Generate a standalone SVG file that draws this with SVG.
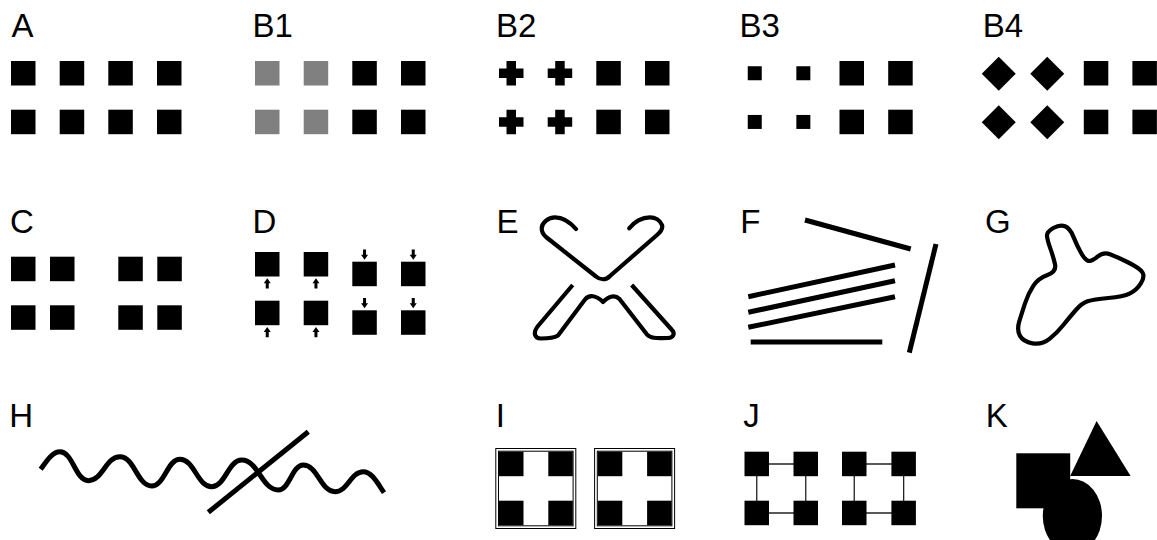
<svg xmlns="http://www.w3.org/2000/svg" xmlns:xlink="http://www.w3.org/1999/xlink" width="1157" height="540" viewBox="0 0 1157 540">
<style>
.lbl{font-family:"Liberation Sans",Arial,sans-serif;font-size:33px;fill:#000}
.k{fill:#000}
.gr{fill:#808080}
.ln{fill:none;stroke:#000;stroke-width:5}
.th{fill:none;stroke:#000;stroke-width:4.2;stroke-linejoin:round;stroke-linecap:round}
.fr{fill:none;stroke:#000;stroke-width:1}
.cn{stroke:#222;stroke-width:1.3}
</style>
<defs>
<rect id="sq" width="24.5" height="24.5"/>
<rect id="ssq" width="14" height="14" x="5.25" y="5.25"/>
<path id="plus" d="M7.5,0h9.5v7.5h7.5v9.5h-7.5v7.5h-9.5v-7.5h-7.5v-9.5h7.5z"/>
<path id="dia" d="M12.25,-4.75L29.25,12.25L12.25,29.25L-4.75,12.25Z"/>
<path id="up" d="M0,0L3.5,5L1.5,5L1.5,10.3L-1.5,10.3L-1.5,5L-3.5,5Z"/>
<path id="dn" d="M0,0L3.5,-5L1.5,-5L1.5,-10.3L-1.5,-10.3L-1.5,-5L-3.5,-5Z"/>
</defs>
<rect width="1157" height="540" fill="#fff"/>

<g id="A" class="k">
<text class="lbl" x="11.5" y="37.3">A</text>
<use xlink:href="#sq" x="11" y="61"/><use xlink:href="#sq" x="59.7" y="61"/><use xlink:href="#sq" x="108.3" y="61"/><use xlink:href="#sq" x="157" y="61"/>
<use xlink:href="#sq" x="11" y="109.7"/><use xlink:href="#sq" x="59.7" y="109.7"/><use xlink:href="#sq" x="108.3" y="109.7"/><use xlink:href="#sq" x="157" y="109.7"/>
</g>

<g id="B1" class="k">
<text class="lbl" x="252.6" y="37.3">B1</text>
<use class="gr" xlink:href="#sq" x="255" y="61"/><use class="gr" xlink:href="#sq" x="303.7" y="61"/><use xlink:href="#sq" x="352.3" y="61"/><use xlink:href="#sq" x="401" y="61"/>
<use class="gr" xlink:href="#sq" x="255" y="109.7"/><use class="gr" xlink:href="#sq" x="303.7" y="109.7"/><use xlink:href="#sq" x="352.3" y="109.7"/><use xlink:href="#sq" x="401" y="109.7"/>
</g>

<g id="B2" class="k">
<text class="lbl" x="496" y="37.3">B2</text>
<use xlink:href="#plus" x="499" y="61"/><use xlink:href="#plus" x="547.7" y="61"/><use xlink:href="#sq" x="596.3" y="61"/><use xlink:href="#sq" x="645" y="61"/>
<use xlink:href="#plus" x="499" y="109.7"/><use xlink:href="#plus" x="547.7" y="109.7"/><use xlink:href="#sq" x="596.3" y="109.7"/><use xlink:href="#sq" x="645" y="109.7"/>
</g>

<g id="B3" class="k">
<text class="lbl" x="739.5" y="37.3">B3</text>
<use xlink:href="#ssq" x="742.5" y="61"/><use xlink:href="#ssq" x="791.1" y="61"/><use xlink:href="#sq" x="839.5" y="61"/><use xlink:href="#sq" x="888.2" y="61"/>
<use xlink:href="#ssq" x="742.5" y="109.7"/><use xlink:href="#ssq" x="791.1" y="109.7"/><use xlink:href="#sq" x="839.5" y="109.7"/><use xlink:href="#sq" x="888.2" y="109.7"/>
</g>

<g id="B4" class="k">
<text class="lbl" x="982.8" y="37.3">B4</text>
<use xlink:href="#dia" x="986.5" y="61.5"/><use xlink:href="#dia" x="1035" y="61.5"/><use xlink:href="#sq" x="1083.8" y="61"/><use xlink:href="#sq" x="1132.4" y="61"/>
<use xlink:href="#dia" x="986.5" y="110"/><use xlink:href="#dia" x="1035" y="110"/><use xlink:href="#sq" x="1083.8" y="109.7"/><use xlink:href="#sq" x="1132.4" y="109.7"/>
</g>

<g id="C" class="k">
<text class="lbl" x="10" y="233">C</text>
<use xlink:href="#sq" x="11" y="256.7"/><use xlink:href="#sq" x="50" y="256.7"/><use xlink:href="#sq" x="118.3" y="256.7"/><use xlink:href="#sq" x="157.3" y="256.7"/>
<use xlink:href="#sq" x="11" y="305.3"/><use xlink:href="#sq" x="50" y="305.3"/><use xlink:href="#sq" x="118.3" y="305.3"/><use xlink:href="#sq" x="157.3" y="305.3"/>
</g>

<g id="D" class="k">
<text class="lbl" x="252.6" y="233">D</text>
<use xlink:href="#sq" x="255" y="252"/><use xlink:href="#sq" x="303.7" y="252"/><use xlink:href="#sq" x="352.3" y="261.7"/><use xlink:href="#sq" x="401" y="261.7"/>
<use xlink:href="#sq" x="255" y="300.7"/><use xlink:href="#sq" x="303.7" y="300.7"/><use xlink:href="#sq" x="352.3" y="310.3"/><use xlink:href="#sq" x="401" y="310.3"/>
<use xlink:href="#up" x="267.25" y="278.2"/><use xlink:href="#up" x="315.95" y="278.2"/>
<use xlink:href="#up" x="267.25" y="326.9"/><use xlink:href="#up" x="315.95" y="326.9"/>
<use xlink:href="#dn" x="364.55" y="259.7"/><use xlink:href="#dn" x="413.25" y="259.7"/>
<use xlink:href="#dn" x="364.55" y="308.3"/><use xlink:href="#dn" x="413.25" y="308.3"/>
</g>

<g id="E">
<text class="lbl" x="496.5" y="233">E</text>
<path class="th" d="M576,229 C570,222 562,217.3 555,217.3 C548,217.3 541.7,223 541.7,228.3 C541.7,232 543,234.5 546,237 L596,276.5 C600,280 606,280.5 610,276 L657,235 C661,231.5 663,228 662,225 C660,220 655,217.3 650,217.3 C642,217.3 634,222 629.3,228.3"/>
<path class="th" d="M572.7,285 L538,326 C533,332 534,338.5 541,338.5 C548,338.5 554,338 558,335.5 L585,299.5 C589,294.5 596,295 603,302 C609,296 615,294.5 619.5,299 L647,334.5 C650,338 655,338.5 668,338 C674,337.5 675,333 672,330 L631.7,285" style="stroke-linecap:butt"/>
</g>

<g id="F">
<text class="lbl" x="740.3" y="233">F</text>
<line class="ln" x1="805" y1="220" x2="910.7" y2="249"/>
<line class="ln" x1="936" y1="244" x2="909.3" y2="352.7"/>
<line class="ln" x1="748.3" y1="296.7" x2="895" y2="265"/>
<line class="ln" x1="748.3" y1="312.3" x2="895" y2="280.7"/>
<line class="ln" x1="748.3" y1="327.3" x2="895" y2="296.7"/>
<line class="ln" x1="750.7" y1="342" x2="882.3" y2="342"/>
</g>

<g id="G">
<text class="lbl" x="985" y="233">G</text>
<path class="th" d="M1047,235.85 Q1046.7,231.7 1053.35,228 Q1060,224.3 1065,226.3 Q1070,228.3 1073.35,236.65 Q1076.7,245 1080.85,252.5 Q1085,260 1088.35,260.85 Q1091.7,261.7 1097.5,256.7 Q1103.3,251.7 1110,254.2 Q1116.7,256.7 1128.35,262.5 Q1140,268.3 1142.5,272.5 Q1145,276.7 1140.85,283.35 Q1136.7,290 1130,293.35 Q1123.3,296.7 1108.3,298 Q1093.3,299.3 1087.5,301.3 Q1081.7,303.3 1075.85,310 Q1070,316.7 1063.35,325 Q1056.7,333.3 1049.2,339.15 Q1041.7,345 1032.5,343.35 Q1023.3,341.7 1020,335.85 Q1016.7,330 1019.2,321.65 Q1021.7,313.3 1025,303.3 Q1028.3,293.3 1033.3,285.8 Q1038.3,278.3 1047.5,275 Q1056.7,271.7 1055,264.2 Q1053.3,256.7 1050.3,248.35 Q1047.3,240 1047,235.85 Z"/>
</g>

<g id="H">
<text class="lbl" x="9.3" y="427.3">H</text>
<path class="ln" d="M40.7,469.3 C46,462 52,451.7 60,451.7 C72.7,451.7 75.6,480.7 88.3,480.7 C102.6,480.7 105.7,456.7 120,456.7 C134.3,456.7 137.4,486 151.7,486 C164.4,486 167.3,459.3 180,459.3 C194.3,459.3 197.4,486.7 211.7,486.7 C225.2,486.7 228.2,460 241.7,460 C258.2,460 261.8,490 278.3,490 C289.6,490 292,465 303.3,465 C317.6,465 320.7,491.7 335,491.7 C347.7,491.7 350.6,471.7 363.3,471.7 C372,471.7 378,484 384,492.7"/>
<line class="ln" x1="208.3" y1="512.3" x2="308.3" y2="431.7"/>
</g>

<g id="I" class="k">
<text class="lbl" x="495.8" y="427.3">I</text>
<rect class="fr" x="495.8" y="448.5" width="80" height="80"/>
<rect class="fr" x="498.5" y="451.2" width="74.6" height="74.6"/>
<use xlink:href="#sq" x="499" y="451.7"/><use xlink:href="#sq" x="548.3" y="451.7"/>
<use xlink:href="#sq" x="499" y="500.7"/><use xlink:href="#sq" x="548.3" y="500.7"/>
<rect class="fr" x="594.6" y="448.5" width="80" height="80"/>
<rect class="fr" x="597.3" y="451.2" width="74.6" height="74.6"/>
<use xlink:href="#sq" x="597.8" y="451.7"/><use xlink:href="#sq" x="647.1" y="451.7"/>
<use xlink:href="#sq" x="597.8" y="500.7"/><use xlink:href="#sq" x="647.1" y="500.7"/>
</g>

<g id="J" class="k">
<text class="lbl" x="743.3" y="427.3">J</text>
<g id="J-connectors">
<line class="cn" x1="756.75" y1="464" x2="805.75" y2="464"/>
<line class="cn" x1="756.75" y1="513" x2="805.75" y2="513"/>
<line class="cn" x1="756.75" y1="464" x2="756.75" y2="513"/>
<line class="cn" x1="805.75" y1="464" x2="805.75" y2="513"/>
<line class="cn" x1="854.25" y1="464" x2="903.65" y2="464"/>
<line class="cn" x1="854.25" y1="513" x2="903.65" y2="513"/>
<line class="cn" x1="854.25" y1="464" x2="854.25" y2="513"/>
<line class="cn" x1="903.65" y1="464" x2="903.65" y2="513"/>
</g>
<use xlink:href="#sq" x="744.5" y="451.7"/><use xlink:href="#sq" x="793.5" y="451.7"/>
<use xlink:href="#sq" x="744.5" y="500.7"/><use xlink:href="#sq" x="793.5" y="500.7"/>
<use xlink:href="#sq" x="842" y="451.7"/><use xlink:href="#sq" x="891.4" y="451.7"/>
<use xlink:href="#sq" x="842" y="500.7"/><use xlink:href="#sq" x="891.4" y="500.7"/>
</g>

<g id="K" class="k">
<text class="lbl" x="985.8" y="427.3">K</text>
<rect x="1016.3" y="453.3" width="53.9" height="55"/>
<path d="M1096.6,421 L1130.6,476 L1070.2,476 Z"/>
<ellipse cx="1072.4" cy="516" rx="29.6" ry="37"/>
</g>
</svg>
